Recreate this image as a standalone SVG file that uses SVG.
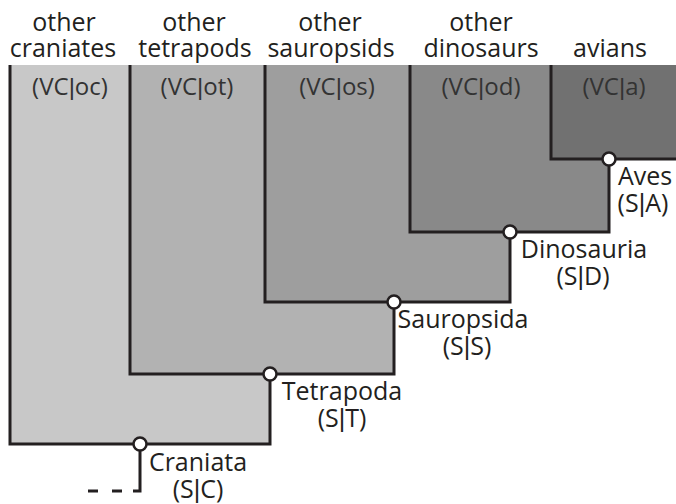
<svg xmlns="http://www.w3.org/2000/svg" width="676" height="504" viewBox="0 0 676 504">
<style>
text{font-family:"Open Sans","Noto Sans","Liberation Sans",sans-serif;fill:#231f20;text-anchor:middle}
.h{font-size:25px}
.v{font-size:24px;fill:#333}
.l{font-size:25px}
.b{font-family:"Liberation Sans",sans-serif}
.box{stroke:#231f20;stroke-width:3;stroke-linejoin:miter}
.node{fill:#fff;stroke:#231f20;stroke-width:2.5}
.ln{fill:none;stroke:#231f20;stroke-width:3}
</style>
<rect width="676" height="504" fill="#fff"/>
<g id="craniates">
<path class="box" fill="#c8c8c8" d="M10,65 V444 H270 V65"/>
<text class="h" x="64" y="31">other</text>
<text class="h" x="63" y="57">craniates</text>
<text class="v" x="70" y="95">(VC<tspan class="b">|</tspan>oc)</text>
</g>
<g id="tetrapods">
<path class="box" fill="#b2b2b2" d="M130,65 V374 H394 V65"/>
<text class="h" x="194" y="31">other</text>
<text class="h" x="195" y="57">tetrapods</text>
<text class="v" x="197" y="95">(VC<tspan class="b">|</tspan>ot)</text>
</g>
<g id="sauropsids">
<path class="box" fill="#9e9e9e" d="M265,65 V302 H510 V65"/>
<text class="h" x="330" y="31">other</text>
<text class="h" x="331" y="57">sauropsids</text>
<text class="v" x="337" y="95">(VC<tspan class="b">|</tspan>os)</text>
</g>
<g id="dinosaurs">
<path class="box" fill="#898989" d="M410,65 V232 H609 V65"/>
<text class="h" x="481" y="31">other</text>
<text class="h" x="481" y="57">dinosaurs</text>
<text class="v" x="481" y="95">(VC<tspan class="b">|</tspan>od)</text>
</g>
<g id="avians">
<path class="box" fill="#717171" d="M551,65 V159 H680 V65"/>
<text class="h" x="610" y="57">avians</text>
<text class="v" x="614" y="95">(VC<tspan class="b">|</tspan>a)</text>
</g>
<g id="connectors">
<path class="ln" d="M140,450 V491 H133"/>
<path class="ln" d="M122,491 H88" stroke-dasharray="10 14"/>
</g>
<g id="Craniata">
<circle class="node" cx="140" cy="444" r="6.5"/>
<text class="l" x="198" y="471">Craniata</text>
<text class="l" x="198" y="498">(S<tspan class="b">|</tspan>C)</text>
</g>
<g id="Tetrapoda">
<circle class="node" cx="270" cy="374" r="6.5"/>
<text class="l" x="342" y="400">Tetrapoda</text>
<text class="l" x="342" y="427">(S<tspan class="b">|</tspan>T)</text>
</g>
<g id="Sauropsida">
<circle class="node" cx="394" cy="302" r="6.5"/>
<text class="l" x="463" y="328">Sauropsida</text>
<text class="l" x="467" y="355">(S<tspan class="b">|</tspan>S)</text>
</g>
<g id="Dinosauria">
<circle class="node" cx="510" cy="232" r="6.5"/>
<text class="l" x="584" y="258">Dinosauria</text>
<text class="l" x="583" y="285">(S<tspan class="b">|</tspan>D)</text>
</g>
<g id="Aves">
<circle class="node" cx="609" cy="159" r="6.5"/>
<text class="l" x="645" y="185">Aves</text>
<text class="l" x="643" y="212">(S<tspan class="b">|</tspan>A)</text>
</g>
</svg>
